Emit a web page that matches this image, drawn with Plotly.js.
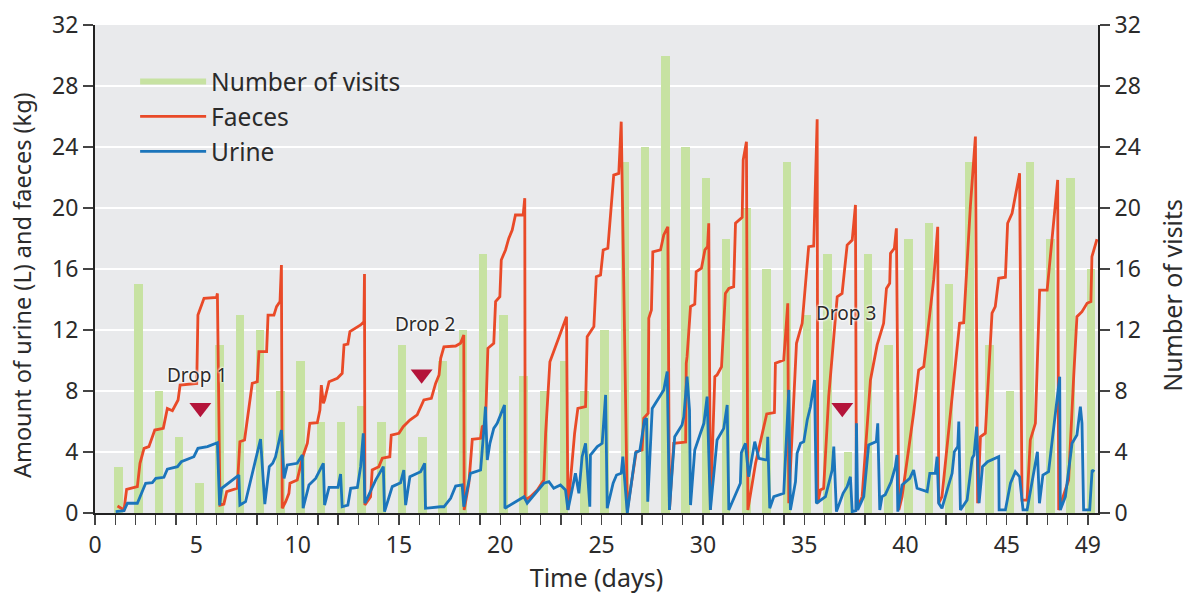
<!DOCTYPE html>
<html>
<head>
<meta charset="utf-8">
<script src="https://cdn.plot.ly/plotly-3.0.1.min.js"></script>
<style>html,body{margin:0;padding:0;background:#fff;}#chart{width:1189px;height:599px;}</style>
</head>
<body>
<div id="chart"></div>
<script>
// Number of visits per day (right axis)
const visitDays = [1,2,3,4,5,6,7,8,9,10,11,12,13,14,15,16,17,18,19,20,21,22,23,24,25,26,27,28,29,30,31,32,33,34,35,36,37,38,39,40,41,42,43,44,45,46,47,48,49];
const visits = [3,15,8,5,2,11,13,12,8,10,6,6,7,6,11,5,10,12,17,13,9,8,10,8,12,23,24,30,24,22,18,20,16,23,13,17,4,17,11,18,19,15,23,11,8,23,18,22,16];

// Faeces (kg), cumulative amount
const faecesDay = [1.11,1.43,1.56,2.09,2.22,2.42,2.66,2.95,3.37,3.57,3.82,4.1,4.2,4.8,5.02,5.08,5.38,6.0,6.04,6.17,6.36,6.5,7.02,7.15,7.38,7.76,8.01,8.09,8.47,8.54,8.83,8.96,9.13,9.2,9.24,9.41,9.57,9.62,9.98,10.23,10.48,10.6,10.97,11.1,11.17,11.27,11.33,11.55,11.96,12.2,12.29,12.48,12.58,13.11,13.27,13.3,13.32,13.6,13.68,14.01,14.18,14.55,14.62,15.0,15.21,15.54,15.9,16.23,16.6,16.81,16.98,17.06,17.22,17.8,18.04,18.2,18.22,18.45,18.62,19.03,19.11,19.27,19.39,19.68,19.77,19.98,20.05,20.26,20.42,20.59,20.75,21.13,21.21,21.23,21.49,21.83,22.15,22.24,22.45,23.27,23.34,23.67,23.83,24.21,24.29,24.62,24.74,24.95,25.08,25.31,25.6,25.85,25.97,26.27,26.71,27.0,27.08,27.3,27.33,27.46,27.53,27.91,28.07,28.27,28.35,28.56,29.15,29.18,29.22,29.39,29.6,29.67,29.93,30.1,30.23,30.29,30.37,30.59,30.7,30.92,31.11,31.28,31.52,31.61,31.81,31.94,31.99,32.15,32.22,32.6,33.15,33.53,33.58,33.99,34.19,34.24,34.62,34.9,35.22,35.47,35.64,35.67,35.8,35.96,36.21,36.63,36.87,37.12,37.37,37.53,37.58,37.86,38.27,38.6,38.92,39.06,39.22,39.26,39.45,39.55,39.67,39.83,40.4,40.65,40.9,41.39,41.59,41.64,41.8,42.67,42.87,43.2,43.45,43.56,43.7,43.94,44.27,44.43,44.6,44.93,45.04,45.26,45.63,45.75,46.0,46.16,46.41,46.62,46.99,47.51,47.56,48.05,48.3,48.46,48.71,48.96,49.15,49.2,49.45];
const faeces = [0.46,0.2,1.55,1.73,3.26,4.24,4.35,5.44,5.55,6.86,6.71,7.41,8.39,8.46,8.5,12.98,14.08,14.14,14.4,0.52,0.59,1.4,1.62,4.68,4.79,8.5,8.61,10.58,10.58,12.98,12.98,13.53,13.86,16.26,0.31,0.74,1.29,1.95,2.16,3.59,4.57,5.88,5.92,6.75,8.39,7.19,7.41,8.61,8.83,9.16,11.02,11.08,11.89,12.33,12.54,15.67,0.52,1.07,2.82,3.04,3.59,3.69,5.11,5.23,5.66,6.1,6.43,7.41,7.52,8.5,9.05,10.14,10.9,10.95,11.13,11.67,0.2,1.95,4.83,4.9,5.66,5.77,10.8,11.13,13.86,14.18,16.59,17.25,18.01,18.56,19.54,19.54,20.64,0.85,1.07,1.51,2.16,5.23,9.92,12.87,0.2,5.23,6.86,6.97,11.56,12.22,15.5,15.61,17.25,17.36,22.16,22.27,25.66,0.2,4.02,4.13,6.21,6.54,12.77,13.31,17.13,17.25,18.23,18.77,0.2,4.57,4.65,9.82,10.25,13.53,13.7,15.82,16.05,17.25,17.46,19.0,0.2,8.94,9.05,9.59,14.4,14.73,14.84,19.0,19.26,19.39,23.15,24.35,0.2,3.26,6.5,6.58,9.82,10.03,13.75,0.64,11.13,12.44,17.46,17.51,25.82,0.64,1.51,1.62,7.63,14.18,14.4,17.57,17.9,20.2,0.2,1.07,8.72,11.02,12.44,14.73,15.06,17.03,17.36,18.67,0.2,1.07,6.54,9.38,9.59,15.28,18.77,0.64,1.07,12.44,12.48,20.09,24.68,0.64,5.0,5.23,13.1,13.53,15.39,15.46,19.0,19.65,22.27,0.85,0.85,4.79,5.88,14.62,14.62,21.84,0.2,2.16,8.94,12.87,13.2,13.75,13.86,16.81,17.95];

// Urine (L), cumulative amount
const urineDay = [1.02,1.43,1.6,2.09,2.5,2.83,3.0,3.4,3.57,4.07,4.26,4.88,5.08,5.55,6.04,6.15,6.25,7.1,7.15,7.43,8.17,8.38,8.6,8.77,8.91,9.08,9.2,9.33,9.49,9.98,10.23,10.27,10.56,10.89,11.27,11.33,11.55,11.99,12.12,12.2,12.48,12.62,12.95,13.11,13.24,13.32,13.85,14.23,14.29,14.67,15.08,15.24,15.33,15.54,16.07,16.27,16.31,17.05,17.22,17.55,17.8,18.12,18.2,18.53,19.03,19.19,19.27,19.36,19.49,19.68,19.85,20.21,20.23,21.17,21.33,22.15,22.4,22.64,22.97,23.22,23.34,23.71,23.88,24.04,24.21,24.42,24.45,24.79,25.03,25.2,25.28,25.57,25.74,25.97,26.05,26.27,26.68,26.89,27.12,27.22,27.28,27.5,27.66,28.07,28.24,28.35,28.51,28.61,28.97,29.06,29.22,29.34,29.39,29.6,29.88,30.05,30.21,30.37,30.7,31.03,31.2,31.28,31.85,31.9,32.1,32.26,32.56,32.76,33.09,33.17,33.2,33.3,33.5,33.99,34.24,34.32,34.57,34.65,34.82,34.98,35.15,35.31,35.51,35.6,36.05,36.38,36.46,36.59,36.92,37.12,37.28,37.37,37.55,37.58,37.64,37.94,38.18,38.56,38.63,38.73,38.84,39.0,39.29,39.5,39.58,39.62,39.83,40.21,40.4,40.57,41.07,41.2,41.47,41.56,41.64,41.8,42.13,42.3,42.41,42.58,42.63,42.71,43.04,43.29,43.38,43.51,43.63,43.8,44.05,44.6,44.62,44.93,45.18,45.42,45.63,45.8,46.0,46.31,46.51,46.61,46.78,47.06,47.35,47.45,47.61,47.64,47.89,48.22,48.46,48.63,48.71,48.79,49.09,49.21,49.32];
const urine = [0.09,0.15,0.64,0.64,1.95,1.99,2.27,2.34,2.87,3.04,3.36,3.69,4.24,4.35,4.61,0.5,1.62,2.49,0.52,0.74,4.85,0.58,3.04,3.26,3.69,4.68,5.44,2.27,3.15,3.26,3.8,0.31,1.84,2.27,3.26,0.52,1.68,1.68,2.56,0.41,0.52,1.62,1.68,3.04,5.23,0.64,2.16,3.04,0.09,1.73,1.99,2.82,0.52,2.38,2.71,3.26,0.31,0.41,0.41,0.96,1.77,1.84,0.41,2.6,2.82,5.44,6.97,3.48,4.57,5.55,5.88,7.08,0.31,1.07,0.64,1.95,2.05,1.62,1.84,1.51,0.2,2.6,1.29,3.69,4.57,0.41,3.8,4.35,4.57,7.74,0.31,1.95,2.49,2.6,3.69,0.0,3.96,4.09,6.1,6.21,0.74,6.86,7.19,8.07,9.27,0.2,3.26,5.0,5.77,6.31,8.94,6.75,0.52,4.13,5.23,5.88,7.63,0.2,4.79,5.55,7.08,0.2,1.95,3.96,4.57,2.38,4.68,3.59,3.48,3.48,5.0,0.31,1.07,1.29,8.07,0.2,2.05,3.91,4.57,4.68,6.1,6.97,8.72,0.64,1.07,2.82,4.35,0.09,1.29,1.73,2.38,0.09,0.15,5.88,0.2,1.07,4.46,4.68,5.88,0.2,1.07,1.2,2.05,3.04,3.8,0.09,1.84,2.27,2.82,1.62,1.4,2.6,2.6,3.69,0.64,0.31,1.84,2.6,4.02,4.35,5.99,0.2,0.85,3.59,3.8,5.66,0.64,3.04,3.36,3.69,0.2,0.2,1.95,2.71,2.38,0.2,0.2,2.38,4.02,0.64,2.49,2.71,6.1,7.08,8.94,0.2,1.07,4.57,5.11,6.97,5.88,0.2,0.2,2.82,2.71];

// Drop events
const dropLabels = ["Drop 1","Drop 2","Drop 3"];
const dropDays = [5.2, 16.12, 36.88];
const dropMarkerLevel = [6.9, 9.1, 6.9];
const dropLabelLevel = [9.05, 12.4, 13.1];
const dropLabelDays = [5.05, 16.3, 37.05];

// Axis tick labels
const xTickVals = Array.from({length: 50}, (_, i) => i);
const xTickText = xTickVals.map(v => (v % 5 === 0 || v === 49) ? String(v) : "");
const yTickVals = [0,4,8,12,16,20,24,28,32];

const FONT = "Noto Sans, Open Sans, sans-serif";
const GREEN = "rgb(199,226,162)";
const RED = "rgb(233,74,40)";
const BLUE = "rgb(27,117,187)";
const TXT = "#2b2b2b";

const traces = [
  {type: "bar", x: visitDays, y: visits, name: "Number of visits",
   marker: {color: GREEN, line: {width: 0}}, width: 0.42, offset: -0.06, showlegend: false},
  {type: "scatter", mode: "lines", x: [null], y: [null], yaxis: "y2", name: "Number of visits",
   line: {color: GREEN, width: 6}, showlegend: true},
  {type: "scatter", mode: "lines", x: faecesDay, y: faeces, name: "Faeces",
   line: {color: RED, width: 2.8}},
  {type: "scatter", mode: "lines", x: urineDay, y: urine, name: "Urine",
   line: {color: BLUE, width: 2.8}},
  {type: "scatter", mode: "markers", x: dropDays, y: dropMarkerLevel, showlegend: false,
   marker: {symbol: "triangle-down", size: 19, color: "rgb(180,20,58)", line: {width: 0}}}
];

const axisCommon = {
  range: [0, 32], autorange: false, tickvals: yTickVals, ticks: "outside", ticklen: 10, tickwidth: 1.3,
  tickcolor: "#444", showline: true, linecolor: "#222", linewidth: 2,
  tickfont: {family: FONT, size: 23, color: TXT}, zeroline: false
};

const layout = {
  width: 1189, height: 599,
  margin: {l: 95, r: 91, t: 25, b: 86, pad: 0},
  paper_bgcolor: "#ffffff", plot_bgcolor: "#e9eaec",
  font: {family: FONT, color: TXT},
  bargap: 0,
  showlegend: true,
  legend: {x: 0.04, y: 0.93, xanchor: "left", yanchor: "top", bgcolor: "rgba(0,0,0,0)",
           font: {family: FONT, size: 24.5, color: TXT}, tracegroupgap: 0, itemwidth: 66},
  xaxis: {range: [0, 49.5], tickvals: xTickVals, ticktext: xTickText, ticks: "outside",
          ticklen: 10, tickwidth: 1.3, tickcolor: "#444", showline: true, linecolor: "#222",
          linewidth: 2, showgrid: false, zeroline: false,
          tickfont: {family: FONT, size: 23, color: TXT},
          title: {text: "Time (days)", font: {family: FONT, size: 25, color: TXT}, standoff: 8}},
  yaxis: Object.assign({}, axisCommon, {showgrid: true, gridcolor: "#ffffff", gridwidth: 1.5}),
  yaxis2: Object.assign({}, axisCommon, {overlaying: "y", side: "right", showgrid: false}),
  annotations: dropLabels.map((t, i) => ({
    x: dropLabelDays[i], y: dropLabelLevel[i], xref: "x", yref: "y", text: t, showarrow: false,
    font: {family: FONT, size: 19, color: TXT, shadow: "0 0 3px #fff, 0 0 3px #fff, 0 0 2px #fff"}
  })).concat([
    {text: "Amount of urine (L) and faeces (kg)", xref: "paper", yref: "paper", x: -0.0728, y: 0.467,
     xanchor: "center", yanchor: "middle",
     textangle: -90, showarrow: false, font: {family: FONT, size: 23.5, color: TXT}},
    {text: "Number of visits", xref: "paper", yref: "paper", x: 1.0738, y: 0.445,
     xanchor: "center", yanchor: "middle",
     textangle: -90, showarrow: false, font: {family: FONT, size: 25, color: TXT}}
  ])
};

Plotly.newPlot("chart", traces, layout, {displayModeBar: false, staticPlot: true});
</script>
</body>
</html>
